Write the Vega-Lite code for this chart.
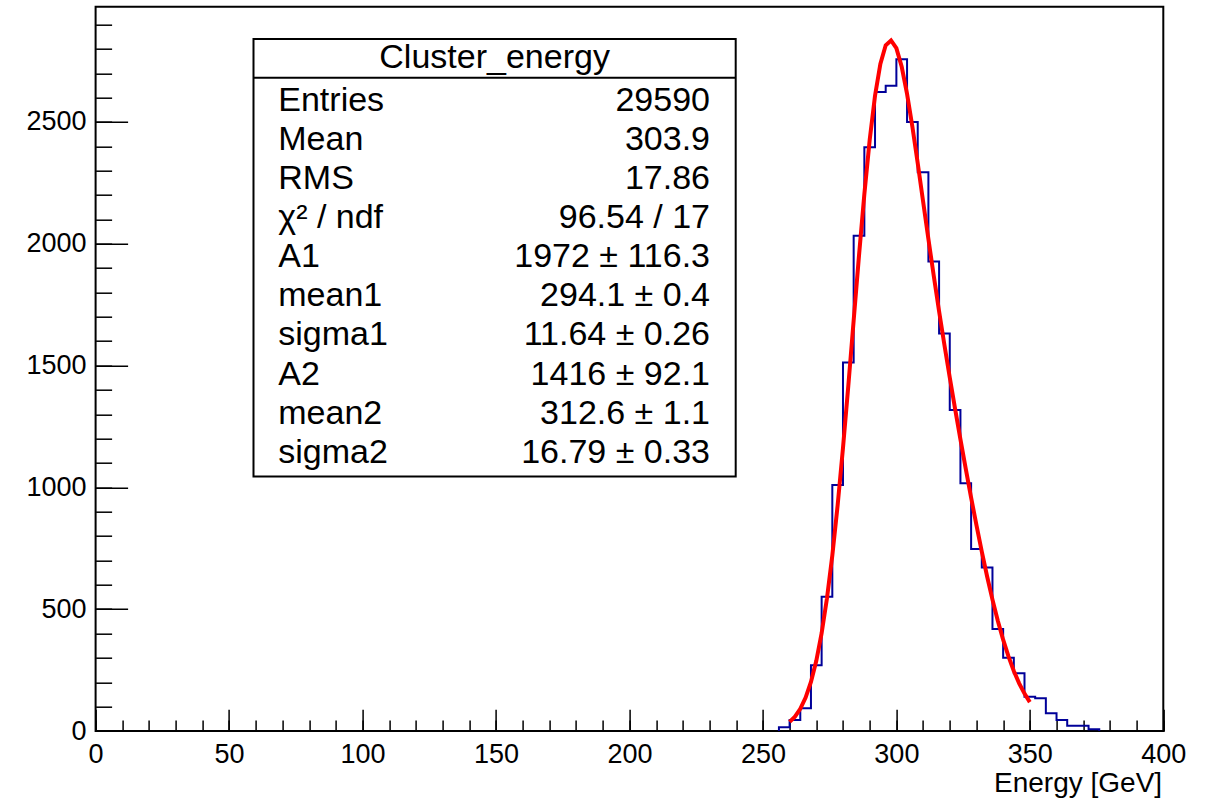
{
  "$schema": "https://vega.github.io/schema/vega-lite/v6.json",
  "autosize": {"type": "none"},
  "padding": {"left": 95.6, "top": 6.7, "right": 43.7, "bottom": 70},
  "width": 1067.7,
  "height": 724.3,
  "background": "white",
  "config": {
    "view": {"stroke": "#000", "strokeWidth": 2},
    "font": "Liberation Sans",
    "text": {"font": "Liberation Sans", "color": "#000"}
  },
  "datasets": {
    "hist": [
      {"energy": 256, "count": 0},
      {"energy": 256, "count": 15},
      {"energy": 260, "count": 45},
      {"energy": 264, "count": 93},
      {"energy": 268, "count": 270},
      {"energy": 272, "count": 551},
      {"energy": 276, "count": 1010},
      {"energy": 280, "count": 1513},
      {"energy": 284, "count": 2033},
      {"energy": 288, "count": 2396},
      {"energy": 292, "count": 2623},
      {"energy": 296, "count": 2649},
      {"energy": 300, "count": 2757},
      {"energy": 304, "count": 2500},
      {"energy": 308, "count": 2293},
      {"energy": 312, "count": 1927},
      {"energy": 316, "count": 1632},
      {"energy": 320, "count": 1318},
      {"energy": 324, "count": 1017},
      {"energy": 328, "count": 747},
      {"energy": 332, "count": 671},
      {"energy": 336, "count": 419},
      {"energy": 340, "count": 301},
      {"energy": 344, "count": 237},
      {"energy": 348, "count": 141},
      {"energy": 352, "count": 134},
      {"energy": 356, "count": 73},
      {"energy": 360, "count": 45},
      {"energy": 364, "count": 22},
      {"energy": 368, "count": 22},
      {"energy": 372, "count": 7},
      {"energy": 376, "count": 0}
    ],
    "fit": [
      {"energy": 260, "f": 37.5}, {"energy": 262, "f": 59.1}, {"energy": 264, "f": 91.1},
      {"energy": 266, "f": 137.1}, {"energy": 268, "f": 201.3}, {"energy": 270, "f": 287.9},
      {"energy": 272, "f": 401.3}, {"energy": 274, "f": 544.8}, {"energy": 276, "f": 720.2},
      {"energy": 278, "f": 927.0}, {"energy": 280, "f": 1161.9}, {"energy": 282, "f": 1417.9},
      {"energy": 284, "f": 1685.2}, {"energy": 286, "f": 1951.7}, {"energy": 288, "f": 2203.0},
      {"energy": 290, "f": 2425.7}, {"energy": 292, "f": 2607.3}, {"energy": 294, "f": 2738.5},
      {"energy": 296, "f": 2814.5}, {"energy": 298, "f": 2834.5}, {"energy": 300, "f": 2802.8},
      {"energy": 302, "f": 2726.5}, {"energy": 304, "f": 2615.4}, {"energy": 306, "f": 2480.1},
      {"energy": 308, "f": 2330.4}, {"energy": 310, "f": 2174.8}, {"energy": 312, "f": 2019.6},
      {"energy": 314, "f": 1868.4}, {"energy": 316, "f": 1723.2}, {"energy": 318, "f": 1584.2},
      {"energy": 320, "f": 1450.9}, {"energy": 322, "f": 1322.1}, {"energy": 324, "f": 1197.3},
      {"energy": 326, "f": 1075.9}, {"energy": 328, "f": 958.2}, {"energy": 330, "f": 844.7},
      {"energy": 332, "f": 736.2}, {"energy": 334, "f": 634.0}, {"energy": 336, "f": 539.1},
      {"energy": 338, "f": 452.5}, {"energy": 340, "f": 374.7}, {"energy": 342, "f": 306.1},
      {"energy": 344, "f": 246.6}, {"energy": 346, "f": 195.8}, {"energy": 348, "f": 153.4},
      {"energy": 350, "f": 118.5}
    ],
    "stats": [
      {"row": 1, "name": "Entries", "value": "29590"},
      {"row": 2, "name": "Mean", "value": "303.9"},
      {"row": 3, "name": "RMS", "value": "17.86"},
      {"row": 4, "name": "χ² / ndf", "value": "96.54 / 17"},
      {"row": 5, "name": "A1", "value": "1972 ± 116.3"},
      {"row": 6, "name": "mean1", "value": "294.1 ± 0.4"},
      {"row": 7, "name": "sigma1", "value": "11.64 ± 0.26"},
      {"row": 8, "name": "A2", "value": "1416 ± 92.1"},
      {"row": 9, "name": "mean2", "value": "312.6 ± 1.1"},
      {"row": 10, "name": "sigma2", "value": "16.79 ± 0.33"}
    ],
    "header": [{"title": "Cluster_energy"}]
  },
  "layer": [
    {
      "data": {"name": "hist"},
      "mark": {"type": "line", "interpolate": "step-after", "color": "#000099", "strokeWidth": 2},
      "encoding": {
        "x": {
          "field": "energy", "type": "quantitative",
          "scale": {"domain": [0, 400], "nice": false, "zero": false},
          "axis": {
            "orient": "bottom",
            "values": [0, 50, 100, 150, 200, 250, 300, 350, 400],
            "format": "d",
            "tickSize": -21.7, "tickWidth": 1.5, "tickColor": "#000",
            "domain": false, "grid": false,
            "labelFontSize": 27, "labelFont": "Liberation Sans", "labelColor": "#000",
            "labelPadding": 31.7, "labelFlush": false, "labelOverlap": false, "labelBound": false,
            "title": "Energy [GeV]", "titleFontSize": 28, "titleFont": "Liberation Sans",
            "titleFontWeight": "normal", "titleColor": "#000",
            "titleAlign": "right", "titleBaseline": "alphabetic", "titleAngle": 0,
            "titleX": 1066, "titleY": 60
          }
        },
        "y": {
          "field": "count", "type": "quantitative",
          "scale": {"domain": [0, 2973], "nice": false, "zero": false},
          "axis": {
            "orient": "left",
            "values": [0, 500, 1000, 1500, 2000, 2500],
            "format": "d",
            "tickSize": -32, "tickWidth": 1.5, "tickColor": "#000",
            "domain": false, "grid": false,
            "labelFontSize": 27, "labelFont": "Liberation Sans", "labelColor": "#000",
            "labelPadding": 41.6, "labelFlush": false, "labelOverlap": false, "labelBound": false,
            "title": null
          }
        },
        "order": {"value": null}
      }
    },
    {
      "data": {"name": "fit"},
      "mark": {"type": "line", "color": "#ff0000", "strokeWidth": 4},
      "encoding": {
        "x": {
          "field": "energy", "type": "quantitative",
          "scale": {"domain": [0, 400], "nice": false, "zero": false},
          "axis": {
            "orient": "bottom",
            "values": [0,10,20,30,40,50,60,70,80,90,100,110,120,130,140,150,160,170,180,190,200,210,220,230,240,250,260,270,280,290,300,310,320,330,340,350,360,370,380,390,400],
            "tickSize": -10.9, "tickWidth": 1.5, "tickColor": "#000",
            "domain": false, "grid": false, "labels": false, "title": null
          }
        },
        "y": {
          "field": "f", "type": "quantitative",
          "scale": {"domain": [0, 2973], "nice": false, "zero": false},
          "axis": {
            "orient": "left",
            "values": [0,100,200,300,400,500,600,700,800,900,1000,1100,1200,1300,1400,1500,1600,1700,1800,1900,2000,2100,2200,2300,2400,2500,2600,2700,2800,2900],
            "tickSize": -16, "tickWidth": 1.5, "tickColor": "#000",
            "domain": false, "grid": false, "labels": false, "title": null
          }
        }
      }
    },
    {
      "layer": [
        {
          "data": {"values": [{}]},
          "mark": {"type": "rect", "fill": "white", "stroke": "#000", "strokeWidth": 2},
          "encoding": {
            "x": {"datum": 0, "type": "quantitative", "scale": {"domain": [0, 1], "range": [157.9, 640.1], "nice": false, "zero": false}, "axis": null},
            "x2": {"datum": 1},
            "y": {"datum": -0.842, "type": "quantitative", "scale": {"domain": [1, 10], "range": [104.3, 456], "nice": false, "zero": false}, "axis": null},
            "y2": {"datum": 10.356}
          }
        },
        {
          "data": {"values": [{}]},
          "mark": {"type": "rule", "color": "#000", "strokeWidth": 2},
          "encoding": {
            "x": {"datum": 0, "type": "quantitative"},
            "x2": {"datum": 1},
            "y": {"datum": 0.148, "type": "quantitative"}
          }
        },
        {
          "data": {"name": "header"},
          "mark": {"type": "text", "align": "center", "baseline": "alphabetic", "fontSize": 34, "font": "Liberation Sans", "color": "#000"},
          "encoding": {
            "x": {"datum": 0.5, "type": "quantitative"},
            "y": {"datum": -0.093, "type": "quantitative"},
            "text": {"field": "title"}
          }
        },
        {
          "data": {"name": "stats"},
          "mark": {"type": "text", "align": "left", "baseline": "alphabetic", "fontSize": 34, "font": "Liberation Sans", "color": "#000"},
          "encoding": {
            "x": {"datum": 0.0514, "type": "quantitative"},
            "y": {"field": "row", "type": "quantitative"},
            "text": {"field": "name"}
          }
        },
        {
          "data": {"name": "stats"},
          "mark": {"type": "text", "align": "right", "baseline": "alphabetic", "fontSize": 34, "font": "Liberation Sans", "color": "#000"},
          "encoding": {
            "x": {"datum": 0.9467, "type": "quantitative"},
            "y": {"field": "row", "type": "quantitative"},
            "text": {"field": "value"}
          }
        }
      ]
    }
  ],
  "resolve": {"scale": {"x": "independent", "y": "independent"}}
}
